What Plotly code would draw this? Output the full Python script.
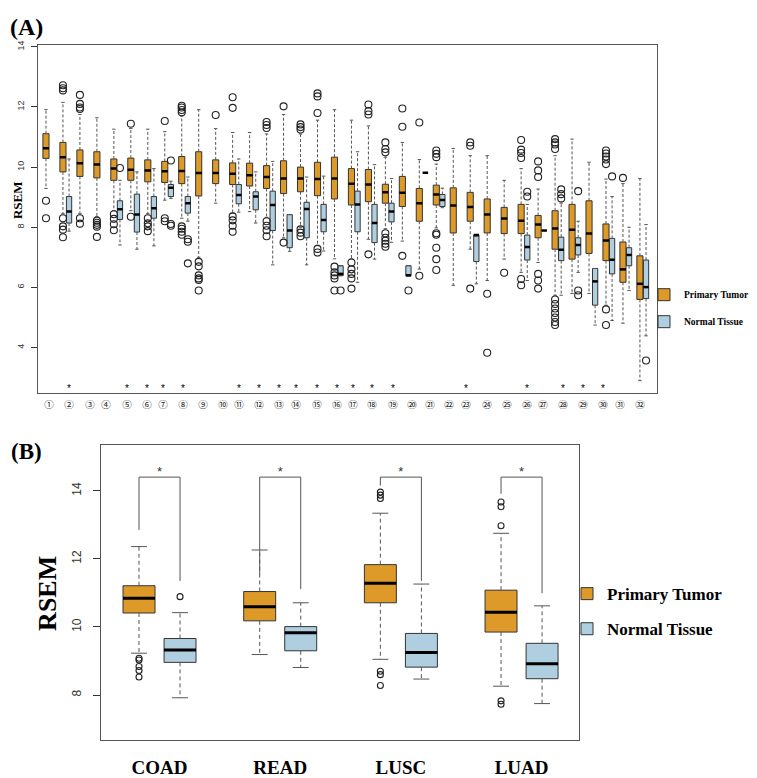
import plotly.graph_objects as go

# ---------------- Panel A: 36 box slots (tumour in every slot, normal where present)
tumor_lo = [9.29, 8.45, 8.45, 8.35, 8.55, 8.55, 8.45, 8.90, 8.30, 7.00, 8.80, 8.47, 8.52, 8.33, 7.65, 8.00, 7.40, 6.95,
            6.95, 7.60, 7.95, 7.54, 6.61, 7.98, 6.07, 7.27, 6.23, 6.94, 6.50, 6.83, 5.74, 5.80, 5.80, 5.41, 4.81, 2.90]
tumor_q1 = [10.29, 9.84, 9.69, 9.64, 9.56, 9.56, 9.51, 9.49, 9.45, 9.04, 9.45, 9.42, 9.37, 9.29, 9.12, 9.18, 9.05, 8.94,
            8.74, 8.85, 8.80, 8.69, 8.20, 8.74, 7.81, 8.20, 7.81, 7.79, 7.79, 7.65, 7.27, 6.94, 7.13, 6.89, 6.17, 5.60]
tumor_med = [10.63, 10.33, 10.13, 10.09, 9.95, 9.91, 9.89, 9.86, 9.87, 9.80, 9.80, 9.78, 9.73, 9.67, 9.62, 9.62, 9.60, 9.62,
             9.45, 9.42, 9.16, 9.15, 8.80, 9.09, 8.72, 8.67, 8.42, 8.29, 8.22, 8.09, 7.96, 7.92, 7.79, 7.56, 6.60, 6.12]
tumor_q3 = [11.11, 10.82, 10.57, 10.51, 10.27, 10.30, 10.24, 10.19, 10.35, 10.51, 10.24, 10.14, 10.13, 10.05, 10.21, 10.00,
            10.16, 10.33, 9.95, 9.92, 9.43, 9.69, 9.29, 9.40, 9.31, 9.16, 8.94, 8.66, 8.76, 8.39, 8.55, 8.76, 8.88, 8.11,
            7.51, 7.05]
tumor_hi = [11.91, 12.15, 11.75, 11.64, 11.26, 11.28, 11.26, 11.18, 11.70, 11.91, 11.28, 11.15, 11.15, 11.10, 11.75, 11.10,
            11.56, 11.91, 11.56, 11.37, 10.33, 10.82, 10.25, 10.10, 10.62, 10.38, 10.38, 9.56, 9.95, 9.27, 10.38, 10.93,
            10.16, 9.60, 9.45, 9.62]
tumor_out = [
    [8.88, 8.30],
    [12.72, 12.62, 12.55, 8.30, 8.03, 7.92, 7.67],
    [12.40, 12.10, 11.98, 11.93, 8.30, 8.12],
    [8.22, 8.15, 8.08, 8.02, 7.68],
    [8.43, 8.28, 8.10, 7.90],
    [11.44, 8.35],
    [8.30, 8.13, 8.03, 7.87],
    [11.53, 8.30, 8.20],
    [12.04, 11.98, 11.90, 11.82, 8.03, 7.95, 7.85, 7.75],
    [6.85, 6.70, 6.40, 6.30, 6.25, 5.90],
    [11.73],
    [12.32, 11.97, 8.36, 8.23, 8.05, 7.85],
    [],
    [11.50, 11.40, 11.30, 8.20, 8.05, 7.90, 7.70],
    [12.02, 7.49],
    [11.42, 11.33, 11.25, 7.93, 7.82, 7.70],
    [12.45, 12.35, 11.80, 7.28, 7.16],
    [6.69, 6.50, 6.40, 6.30, 5.90],
    [6.83, 6.60, 6.45, 6.30, 5.96],
    [12.08, 11.86, 11.75, 7.10],
    [10.82, 10.60, 10.49, 7.80, 7.65, 7.55, 7.45, 7.35],
    [11.95, 11.34, 7.05],
    [11.48, 6.39],
    [10.55, 10.44, 10.33, 7.80, 7.75, 7.32, 6.94, 6.58],
    [],
    [10.82, 10.71, 5.96],
    [5.79, 3.83],
    [6.49],
    [10.90, 10.58, 10.47, 10.30, 6.28, 6.07],
    [10.19, 9.89, 9.67, 6.45, 6.23, 5.96],
    [10.93, 10.82, 10.75, 10.60, 5.60, 5.45, 5.30, 5.15, 5.00, 4.85, 4.75],
    [],
    [],
    [10.55, 10.45, 10.35, 10.25, 10.10, 5.27, 4.75],
    [9.64],
    [],
]

normal_slot = [2, 5, 6, 7, 8, 9, 12, 13, 14, 15, 16, 17, 18, 19, 20, 21, 22, 23, 24, 26, 29, 30, 31, 32, 33, 34, 35, 36]
normal_lo = [7.87, 7.41, 7.27, 7.38, 8.96, 8.20, 8.50, 8.14, 6.75, 7.20, 6.75, 7.21, 6.39, 6.17, 6.94, 7.50, 6.39, 9.81,
             8.65, 6.12, 6.23, 7.89, 5.74, 6.50, 4.75, 4.90, 5.90, 4.39]
normal_q1 = [8.14, 8.26, 7.84, 8.30, 9.02, 8.47, 8.78, 8.58, 7.89, 7.32, 7.65, 7.85, 6.39, 7.85, 7.49, 8.18, 6.39, 9.81,
             8.69, 6.86, 6.91, 7.89, 6.89, 7.08, 5.41, 6.45, 6.72, 5.63]
normal_med = [8.52, 8.60, 8.42, 8.63, 9.31, 8.80, 9.07, 9.02, 8.74, 7.89, 8.61, 8.24, 6.45, 8.76, 8.14, 8.52, 6.40, 9.81,
              8.91, 7.74, 7.34, 7.89, 7.25, 7.41, 6.20, 6.92, 7.08, 6.01]
normal_q3 = [9.02, 8.88, 9.10, 9.02, 9.42, 9.02, 9.42, 9.18, 9.20, 8.42, 8.83, 8.76, 6.72, 9.20, 8.76, 8.80, 6.72, 9.81,
             9.09, 7.74, 7.74, 7.89, 7.67, 7.65, 6.63, 7.63, 7.32, 6.91]
normal_hi = [10.27, 9.56, 9.84, 9.95, 9.53, 9.67, 10.27, 9.84, 10.19, 8.42, 9.67, 9.70, 6.72, 10.51, 10.08, 9.62, 6.72,
             9.81, 9.30, 7.74, 8.76, 7.89, 8.80, 8.20, 6.63, 9.02, 8.00, 8.09]
normal_out = [[], [9.97], [], [], [10.22, 8.11, 8.05], [7.60, 7.52, 6.80], [], [], [], [], [], [], [5.90], [], [], [],
              [5.90], [], [], [], [9.18, 9.02], [], [9.26, 9.10, 8.96], [9.20, 5.90, 5.74], [], [9.69], [], [3.57]]

# 32 cancer-type labels and the ones marked significant
n_labels = 32
starred = [2, 5, 6, 7, 8, 11, 12, 13, 14, 15, 16, 17, 18, 19, 23, 26, 28, 29, 30]

# ---------------- Panel B
groups = ["COAD", "READ", "LUSC", "LUAD"]
b_tumor_lo = [9.23, 9.19, 9.05, 8.26]
b_tumor_q1 = [10.41, 10.18, 10.71, 9.85]
b_tumor_med = [10.84, 10.59, 11.28, 10.43]
b_tumor_q3 = [11.21, 11.04, 11.83, 11.08]
b_tumor_hi = [12.36, 12.26, 13.34, 12.75]
b_tumor_out = [[9.08, 9.03, 8.84, 8.72, 8.53], [], [13.96, 13.87, 13.77, 8.70, 8.60, 8.28], [13.67, 13.53, 12.97, 7.83, 7.73]]
b_normal_lo = [7.92, 8.81, 8.47, 7.75]
b_normal_q1 = [8.96, 9.30, 8.82, 8.48]
b_normal_med = [9.32, 9.83, 9.25, 8.92]
b_normal_q3 = [9.66, 10.01, 9.81, 9.52]
b_normal_hi = [10.42, 10.71, 11.26, 10.62]
b_normal_out = [[10.89], [], [], []]
bracket_top = 14.40
bracket_left_end = [12.85, 11.55, 14.15, 13.91]
bracket_right_end = [11.35, 11.11, 11.35, 10.99]

ORANGE = "#DE9A28"
BLUE = "#AFCFE1"
EDGE = "#333333"
WHISK = "#555555"
SERIF = "Liberation Serif, Times New Roman, serif"
SANS = "Liberation Sans, Arial, sans-serif"
CIRC = "Noto Sans CJK JP, DejaVu Sans, sans-serif"

# the page body keeps its default 8px margin, so the figure is drawn 8px in from the window corner
PAD = 8
W, H = 757 - PAD, 778 - PAD


def fx(p):  # window pixel -> paper x
    return (p - PAD) / W


def fy(p):  # window pixel -> paper y
    return 1 - (p - PAD) / H


def vsegs(xs, y0, y1):
    px, py = [], []
    for x, a, b in zip(xs, y0, y1):
        px += [x, x, None]
        py += [a, b, None]
    return px, py


def hsegs(xs, ys, half):
    px, py = [], []
    for x, y in zip(xs, ys):
        px += [x - half, x + half, None]
        py += [y, y, None]
    return px, py


def add_boxes(fig, pos, lo, q1, med, q3, hi, outs, color, name, legend, axes, bw, cap, med_w, dash, msize,
              group):
    xa, ya = axes
    wx1, wy1 = vsegs(pos, q3, hi)
    wx2, wy2 = vsegs(pos, q1, lo)
    fig.add_trace(go.Scatter(x=wx1 + wx2, y=wy1 + wy2, mode="lines", xaxis=xa, yaxis=ya,
                             line=dict(color=WHISK, width=1, dash=dash), showlegend=False, hoverinfo="skip"))
    cx1, cy1 = hsegs(pos, hi, cap)
    cx2, cy2 = hsegs(pos, lo, cap)
    fig.add_trace(go.Scatter(x=cx1 + cx2, y=cy1 + cy2, mode="lines", xaxis=xa, yaxis=ya,
                             line=dict(color=WHISK, width=1), showlegend=False, hoverinfo="skip"))
    fig.add_trace(go.Box(x=pos, q1=q1, median=med, q3=q3, lowerfence=q1, upperfence=q3, width=bw,
                         fillcolor=color, line=dict(color=EDGE, width=1), boxpoints=False, whiskerwidth=0,
                         name=name, legend=legend, legendgroup=group, xaxis=xa, yaxis=ya))
    mx, my = hsegs(pos, med, bw / 2)
    fig.add_trace(go.Scatter(x=mx, y=my, mode="lines", xaxis=xa, yaxis=ya,
                             line=dict(color="black", width=med_w), showlegend=False, hoverinfo="skip"))
    ox, oy = [], []
    for x, vals in zip(pos, outs):
        ox += [x] * len(vals)
        oy += vals
    fig.add_trace(go.Scatter(x=ox, y=oy, mode="markers", xaxis=xa, yaxis=ya, showlegend=False, hoverinfo="skip",
                             marker=dict(symbol="circle-open", size=msize, color="#222222", line=dict(width=1.1))))


fig = go.Figure()

# panel A
tumor_pos = list(range(1, len(tumor_med) + 1))
normal_pos = [s + 0.36 for s in normal_slot]
add_boxes(fig, tumor_pos, tumor_lo, tumor_q1, tumor_med, tumor_q3, tumor_hi, tumor_out, ORANGE,
          "<b>Primary Tumor</b>", "legend", ("x", "y"), 0.36, 0.1, 2.5, "3px,2px", 7, "t")
add_boxes(fig, normal_pos, normal_lo, normal_q1, normal_med, normal_q3, normal_hi, normal_out, BLUE,
          "<b>Normal Tissue</b>", "legend", ("x", "y"), 0.31, 0.1, 2.5, "3px,2px", 7, "n")

# label positions (pixel estimates of the hand-placed labels -> axis units)
label_px = [49, 69, 90, 106, 127, 147, 163, 183, 203, 223, 239, 259, 279, 296, 317, 337, 353, 372, 393, 412, 430,
            449, 466, 487, 507, 527, 543, 563, 583, 603, 620, 640]
A_X0, A_PX0, A_PPU = 0.53, 38, 16.97
label_x = [A_X0 + (p - A_PX0) / A_PPU for p in label_px]
label_txt = [chr(0x2460 + i - 1) if i <= 20 else chr(0x3251 + i - 21) for i in range(1, n_labels + 1)]
STAR_Y = 2.62
fig.add_trace(go.Scatter(x=[label_x[i - 1] for i in starred], y=[STAR_Y] * len(starred), mode="text",
                         text=["*"] * len(starred), textfont=dict(family=SANS, size=10, color="black"),
                         xaxis="x", yaxis="y", showlegend=False, hoverinfo="skip"))

# panel B
b_center = list(range(1, len(groups) + 1))
b_tpos = [c - 0.17 for c in b_center]
b_npos = [c + 0.17 for c in b_center]
add_boxes(fig, b_tpos, b_tumor_lo, b_tumor_q1, b_tumor_med, b_tumor_q3, b_tumor_hi, b_tumor_out, ORANGE,
          "<b>Primary Tumor</b>", "legend2", ("x2", "y2"), 0.265, 0.066, 3, "4px,3px", 6, "bt")
add_boxes(fig, b_npos, b_normal_lo, b_normal_q1, b_normal_med, b_normal_q3, b_normal_hi, b_normal_out, BLUE,
          "<b>Normal Tissue</b>", "legend2", ("x2", "y2"), 0.265, 0.066, 3, "4px,3px", 6, "bn")

bx, by = [], []
for t, n, l, r in zip(b_tpos, b_npos, bracket_left_end, bracket_right_end):
    bx += [t, t, n, n, None]
    by += [l, bracket_top, bracket_top, r, None]
fig.add_trace(go.Scatter(x=bx, y=by, mode="lines", line=dict(color="#555", width=1), xaxis="x2", yaxis="y2",
                         showlegend=False, hoverinfo="skip"))
fig.add_trace(go.Scatter(x=b_center, y=[bracket_top - 0.05] * len(groups), mode="text", text=["*"] * len(groups),
                         textposition="top center", textfont=dict(family=SANS, size=13, color="#333"),
                         xaxis="x2", yaxis="y2", showlegend=False, hoverinfo="skip"))

frame = dict(showline=True, mirror=True, linecolor="#555", linewidth=1.3, showgrid=False, zeroline=False)

fig.update_layout(
    width=W, height=H,
    margin=dict(l=0, r=0, t=0, b=0),
    paper_bgcolor="white", plot_bgcolor="white",
    boxmode="overlay",
    xaxis=dict(domain=[fx(38), fx(657)], range=[A_X0, A_X0 + (657 - 38) / A_PPU], tickmode="array",
               tickvals=label_x, ticktext=label_txt, ticks="", tickfont=dict(family=CIRC, size=9.5, color="#222"),
               ticklabelstandoff=2, anchor="y", **frame),
    yaxis=dict(domain=[fy(393), fy(41)], range=[2.49, 14.07], tickvals=[4, 6, 8, 10, 12, 14],
               ticks="outside", ticklen=6, tickcolor="#333", tickangle=-90, ticklabelstandoff=3,
               tickfont=dict(family=SANS, size=9, color="#333"), anchor="x", **frame),
    xaxis2=dict(domain=[fx(101), fx(579)], range=[0.515, 4.476], tickmode="array", tickvals=b_center,
                ticktext=groups, ticks="", tickfont=dict(family=SERIF, size=19, color="black", weight="bold"),
                ticklabelstandoff=10, anchor="y2", **frame),
    yaxis2=dict(domain=[fy(744), fy(446)], range=[6.67, 15.33], tickvals=[8, 10, 12, 14],
                ticks="outside", ticklen=7, tickcolor="#333", tickangle=-90, ticklabelstandoff=7,
                tickfont=dict(family=SANS, size=12, color="#333"), anchor="x2", **frame),
    legend=dict(x=fx(644), y=fy(279), xanchor="left", yanchor="top", bgcolor="rgba(0,0,0,0)",
                font=dict(family=SERIF, size=9.5, color="black"), traceorder="grouped", tracegroupgap=8),
    legend2=dict(x=fx(567), y=fy(578), xanchor="left", yanchor="top", bgcolor="rgba(0,0,0,0)",
                 font=dict(family=SERIF, size=17, color="black"), traceorder="grouped", tracegroupgap=10),
    annotations=[
        dict(text="<b>(A)</b>", x=fx(8), y=fy(8), xref="paper", yref="paper", xanchor="left", yanchor="top",
             showarrow=False, font=dict(family=SERIF, size=24, color="black")),
        dict(text="<b>(B)</b>", x=fx(9), y=fy(437), xref="paper", yref="paper", xanchor="left", yanchor="top",
             showarrow=False, font=dict(family=SERIF, size=23, color="black")),
        dict(text="<b>RSEM</b>", x=fx(17), y=fy(198), xref="paper", yref="paper", xanchor="center",
             yanchor="middle", textangle=-90, showarrow=False, font=dict(family=SERIF, size=13, color="black")),
        dict(text="<b>RSEM</b>", x=fx(48), y=fy(596), xref="paper", yref="paper", xanchor="center",
             yanchor="middle", textangle=-90, showarrow=False, font=dict(family=SERIF, size=26, color="black")),
    ],
)

fig.write_html("out.html")
